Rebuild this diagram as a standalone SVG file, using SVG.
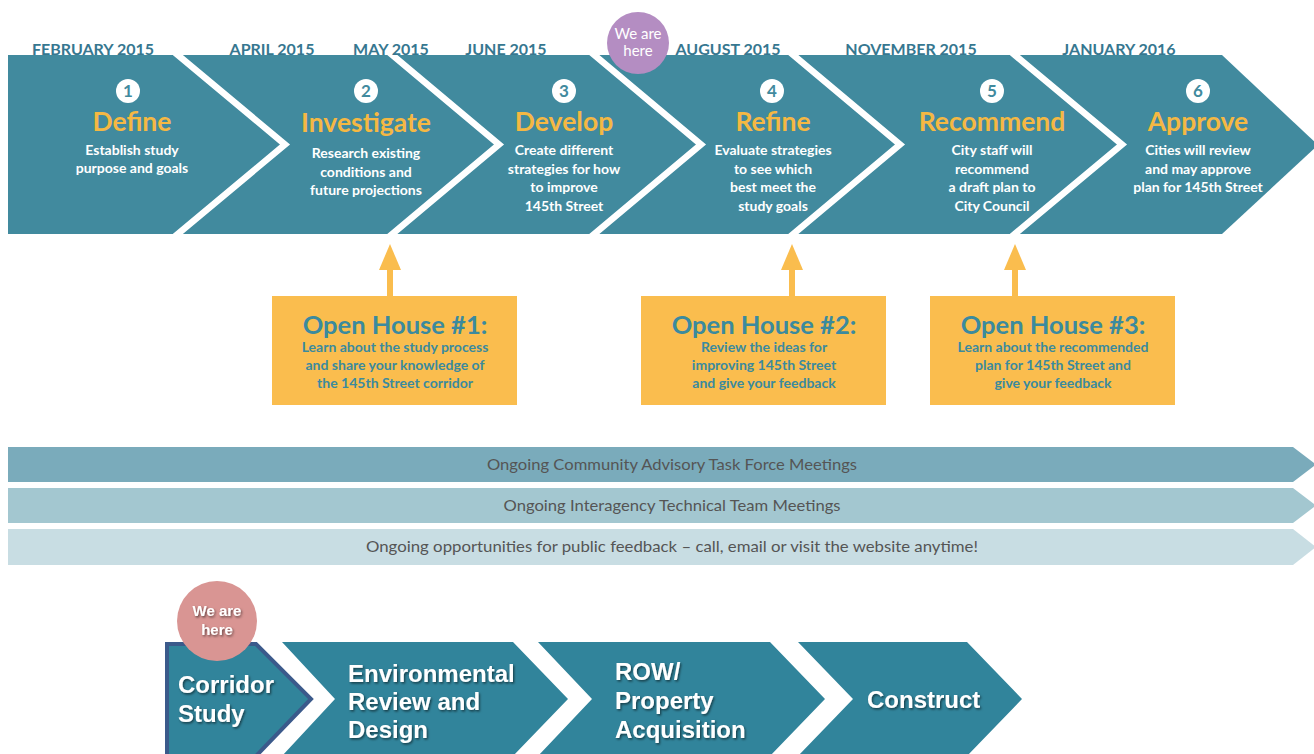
<svg xmlns="http://www.w3.org/2000/svg" width="1314" height="754" viewBox="0 0 1314 754">
  <style>
    .date { font-family: Lato, "Open Sans", sans-serif; font-weight: 700; font-size: 16px; fill: #367790; text-anchor: middle; }
    .num { font-family: Lato, "Open Sans", sans-serif; font-weight: 700; font-size: 17px; fill: #418a9e; text-anchor: middle; }
    .title { font-family: Lato, "Open Sans", sans-serif; font-weight: 700; font-size: 26.5px; fill: #f5b843; text-anchor: middle; }
    .desc { font-family: Lato, "Open Sans", sans-serif; font-weight: 700; font-size: 14px; fill: #ffffff; text-anchor: middle; }
    .ohTitle { font-family: Lato, "Open Sans", sans-serif; font-weight: 700; font-size: 25.5px; fill: #3b8a9e; text-anchor: middle; }
    .ohText { font-family: Lato, "Open Sans", sans-serif; font-weight: 700; font-size: 14px; fill: #3b8a9e; text-anchor: middle; }
    .box { fill: #fabd4e; }
    .band-text { font-family: Lato, "Open Sans", sans-serif; font-size: 15px; fill: #555555; text-anchor: middle; }
    .here { font-family: Lato, "Open Sans", sans-serif; font-size: 15px; fill: #ffffff; text-anchor: middle; }
    .phase { fill: #31849b; }
    .phase-text { font-family: "Liberation Sans", Arial, sans-serif; font-weight: 700; font-size: 24px; fill: #ffffff; filter: url(#shadow); }
    .here2 { font-family: "Liberation Sans", Arial, sans-serif; font-weight: 700; font-size: 15px; fill: #ffffff; text-anchor: middle; filter: url(#shadow); }
  </style>
  <defs>
    <clipPath id="bandClip">
      <polygon points="8,55 1222,55 1318,145 1222,234 8,234"/>
    </clipPath>
    <filter id="shadow" x="-10%" y="-20%" width="130%" height="160%">
      <feDropShadow dx="1.2" dy="1.5" stdDeviation="0.8" flood-color="#000000" flood-opacity="0.55"/>
    </filter>
  </defs>

  <rect width="1314" height="754" fill="#ffffff"/>

  <!-- Month labels above the process band -->
  <g id="dates">
    <text class="date" x="93" y="55">FEBRUARY 2015</text>
    <text class="date" x="272" y="55">APRIL 2015</text>
    <text class="date" x="391" y="55">MAY 2015</text>
    <text class="date" x="506" y="55">JUNE 2015</text>
    <text class="date" x="728" y="55">AUGUST 2015</text>
    <text class="date" x="911" y="55">NOVEMBER 2015</text>
    <text class="date" x="1119" y="55">JANUARY 2016</text>
  </g>

  <!-- Process band with white chevron separators -->
  <g id="band">
    <polygon points="8,55 1222,55 1318,145 1222,234 8,234" fill="#418a9e"/>
    <g clip-path="url(#bandClip)" fill="none" stroke="#ffffff" stroke-width="6.5" stroke-linejoin="miter" stroke-miterlimit="10">
      <polyline points="70,-35 285,144.5 70,324"/>
      <polyline points="285,-35 499,144.5 285,324"/>
      <polyline points="487,-35 701,144.5 487,324"/>
      <polyline points="686,-35 900,144.5 686,324"/>
      <polyline points="907,-35 1122,144.5 907,324"/>
    </g>
  </g>

  <g id="step1">
    <circle cx="128" cy="91" r="12" fill="#ffffff"/>
    <text class="num" x="128" y="97">1</text>
    <text class="title" x="132" y="131">Define</text>
    <text class="desc" x="132" y="155">Establish study</text>
    <text class="desc" x="132" y="173">purpose and goals</text>
  </g>
  <g id="step2">
    <circle cx="366" cy="91" r="12" fill="#ffffff"/>
    <text class="num" x="366" y="97">2</text>
    <text class="title" x="366" y="132">Investigate</text>
    <text class="desc" x="366" y="158">Research existing</text>
    <text class="desc" x="366" y="176.5">conditions and</text>
    <text class="desc" x="366" y="195">future projections</text>
  </g>
  <g id="step3">
    <circle cx="564" cy="91" r="12" fill="#ffffff"/>
    <text class="num" x="564" y="97">3</text>
    <text class="title" x="564" y="131">Develop</text>
    <text class="desc" x="564" y="155">Create different</text>
    <text class="desc" x="564" y="173.5">strategies for how</text>
    <text class="desc" x="564" y="192">to improve</text>
    <text class="desc" x="564" y="210.5">145th Street</text>
  </g>
  <g id="step4">
    <circle cx="772" cy="91" r="12" fill="#ffffff"/>
    <text class="num" x="772" y="97">4</text>
    <text class="title" x="773" y="131">Refine</text>
    <text class="desc" x="773" y="155">Evaluate strategies</text>
    <text class="desc" x="773" y="173.5">to see which</text>
    <text class="desc" x="773" y="192">best meet the</text>
    <text class="desc" x="773" y="210.5">study goals</text>
  </g>
  <g id="step5">
    <circle cx="992" cy="91" r="12" fill="#ffffff"/>
    <text class="num" x="992" y="97">5</text>
    <text class="title" x="992" y="131">Recommend</text>
    <text class="desc" x="992" y="155">City staff will</text>
    <text class="desc" x="992" y="173.5">recommend</text>
    <text class="desc" x="992" y="192">a draft plan to</text>
    <text class="desc" x="992" y="210.5">City Council</text>
  </g>
  <g id="step6">
    <circle cx="1198" cy="91" r="12" fill="#ffffff"/>
    <text class="num" x="1198" y="97">6</text>
    <text class="title" x="1198" y="131">Approve</text>
    <text class="desc" x="1198" y="155">Cities will review</text>
    <text class="desc" x="1198" y="173.5">and may approve</text>
    <text class="desc" x="1198" y="192">plan for 145th Street</text>
  </g>

  <!-- Current position marker -->
  <g id="we-are-here-top">
    <circle cx="638" cy="43" r="31" fill="#b48dc2"/>
    <text class="here" x="638" y="39">We are</text>
    <text class="here" x="638" y="56">here</text>
  </g>

  <!-- Open house arrows pointing up to the band -->
  <g id="connectors" fill="#fabd4e">
    <rect x="387" y="268" width="6" height="30"/>
    <polygon points="379,270 390,244 401,270"/>
    <rect x="789" y="268" width="6" height="30"/>
    <polygon points="781,270 792,244 803,270"/>
    <rect x="1012" y="268" width="6" height="30"/>
    <polygon points="1004,270 1015,244 1026,270"/>
  </g>

  <g id="openhouse1">
    <rect class="box" x="272" y="296" width="245" height="109"/>
    <text class="ohTitle" x="395" y="334">Open House #1:</text>
    <text class="ohText" x="395" y="352">Learn about the study process</text>
    <text class="ohText" x="395" y="370">and share your knowledge of</text>
    <text class="ohText" x="395" y="388">the 145th Street corridor</text>
  </g>
  <g id="openhouse2">
    <rect class="box" x="641" y="296" width="245" height="109"/>
    <text class="ohTitle" x="764" y="334">Open House #2:</text>
    <text class="ohText" x="764" y="352">Review the ideas for</text>
    <text class="ohText" x="764" y="370">improving 145th Street</text>
    <text class="ohText" x="764" y="388">and give your feedback</text>
  </g>
  <g id="openhouse3">
    <rect class="box" x="930" y="296" width="245" height="109"/>
    <text class="ohTitle" x="1053" y="334">Open House #3:</text>
    <text class="ohText" x="1053" y="352">Learn about the recommended</text>
    <text class="ohText" x="1053" y="370">plan for 145th Street and</text>
    <text class="ohText" x="1053" y="388">give your feedback</text>
  </g>

  <!-- Ongoing activity bands -->
  <g id="ongoing1">
    <polygon points="8,447 1293,447 1316,464.5 1293,482 8,482" fill="#7aabbb"/>
    <text class="band-text" x="672" y="470" textLength="370" lengthAdjust="spacingAndGlyphs">Ongoing Community Advisory Task Force Meetings</text>
  </g>
  <g id="ongoing2">
    <polygon points="8,488 1293,488 1316,505.5 1293,523 8,523" fill="#a3c7d0"/>
    <text class="band-text" x="672" y="511" textLength="337" lengthAdjust="spacingAndGlyphs">Ongoing Interagency Technical Team Meetings</text>
  </g>
  <g id="ongoing3">
    <polygon points="8,529 1293,529 1316,547 1293,565 8,565" fill="#c8dde3"/>
    <text class="band-text" x="672" y="552" textLength="612" lengthAdjust="spacingAndGlyphs">Ongoing opportunities for public feedback – call, email or visit the website anytime!</text>
  </g>

  <!-- Project phases -->
  <g id="phase-corridor">
    <polygon class="phase" points="167,644 256,644 311,699 256,756 167,756" stroke="#3b5a8b" stroke-width="4" stroke-linejoin="miter"/>
    <text class="phase-text" x="178" y="693">Corridor</text>
    <text class="phase-text" x="178" y="722">Study</text>
  </g>
  <g id="phase-environmental">
    <polygon class="phase" points="282,642 513,642 568,699 513,756 282,756 335,699"/>
    <text class="phase-text" x="348" y="682">Environmental</text>
    <text class="phase-text" x="348" y="710">Review and</text>
    <text class="phase-text" x="348" y="738">Design</text>
  </g>
  <g id="phase-row">
    <polygon class="phase" points="538,642 770,642 825,699 770,756 538,756 592,699"/>
    <text class="phase-text" x="615" y="680">ROW/</text>
    <text class="phase-text" x="615" y="709">Property</text>
    <text class="phase-text" x="615" y="738">Acquisition</text>
  </g>
  <g id="phase-construct">
    <polygon class="phase" points="798,642 967,642 1022,699 967,756 798,756 853,699"/>
    <text class="phase-text" x="867" y="708">Construct</text>
  </g>
  <g id="we-are-here-bottom">
    <circle cx="217" cy="621" r="40" fill="#d99593"/>
    <text class="here2" x="217" y="616">We are</text>
    <text class="here2" x="217" y="635">here</text>
  </g>
</svg>
